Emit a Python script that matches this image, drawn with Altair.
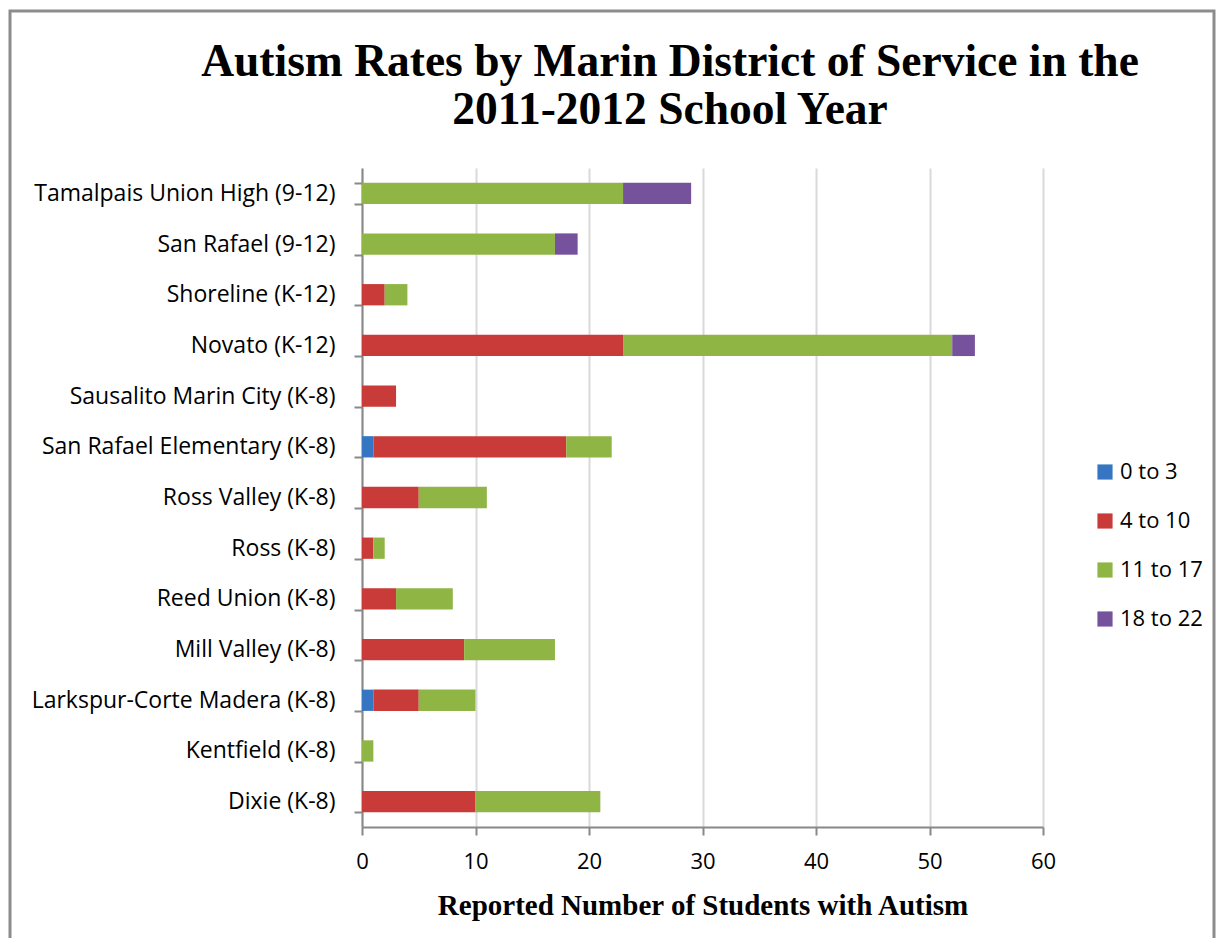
import altair as alt
import pandas as pd

districts = [
    "Tamalpais Union High (9-12)",
    "San Rafael (9-12)",
    "Shoreline (K-12)",
    "Novato (K-12)",
    "Sausalito Marin City (K-8)",
    "San Rafael Elementary (K-8)",
    "Ross Valley (K-8)",
    "Ross (K-8)",
    "Reed Union (K-8)",
    "Mill Valley (K-8)",
    "Larkspur-Corte Madera (K-8)",
    "Kentfield (K-8)",
    "Dixie (K-8)",
]
age_groups = ["0 to 3", "4 to 10", "11 to 17", "18 to 22"]
age_0_3 =   [0, 0, 0, 0, 0, 1, 0, 0, 0, 0, 1, 0, 0]
age_4_10 =  [0, 0, 2, 23, 3, 17, 5, 1, 3, 9, 4, 0, 10]
age_11_17 = [23, 17, 2, 29, 0, 4, 6, 1, 5, 8, 5, 1, 11]
age_18_22 = [6, 2, 0, 2, 0, 0, 0, 0, 0, 0, 0, 0, 0]
colors = ["#3575c2", "#c83b38", "#8fb544", "#77529c"]
title_lines = ["Autism Rates by Marin District of Service in the", "2011-2012 School Year"]

series = [age_0_3, age_4_10, age_11_17, age_18_22]
rows = []
for gi, (g, vals) in enumerate(zip(age_groups, series)):
    for d, v in zip(districts, vals):
        rows.append({"district": d, "group": g, "order": gi, "value": v})
df = pd.DataFrame(rows)

label_font = "Open Sans"
serif = "Liberation Serif"

bars = alt.Chart(df).mark_bar().encode(
    y=alt.Y("district:N", sort=districts,
            scale=alt.Scale(paddingInner=0.58, paddingOuter=0.29),
            axis=alt.Axis(title=None, tickBand="extent", tickSize=8, tickColor="#888888",
                          tickWidth=2, domainColor="#888888", domainWidth=2,
                          labelFont=label_font, labelFontSize=23, labelColor="#000000",
                          labelPadding=19, labelLimit=500, grid=False)),
    x=alt.X("value:Q", stack="zero",
            scale=alt.Scale(domain=[0, 60], nice=False),
            axis=alt.Axis(title="Reported Number of Students with Autism",
                          values=[0, 10, 20, 30, 40, 50, 60],
                          titleFont=serif, titleFontSize=29, titleFontWeight="bold",
                          titleColor="#000000", titlePadding=19,
                          labelFont=label_font, labelFontSize=22, labelColor="#000000",
                          labelPadding=16, labelFlush=False, tickSize=8, tickColor="#888888",
                          tickWidth=2, domainColor="#888888", domainWidth=2,
                          grid=True, gridColor="#d9d9d9", gridWidth=2)),
    color=alt.Color("group:N", sort=age_groups,
                    scale=alt.Scale(domain=age_groups, range=colors),
                    legend=alt.Legend(title=None, orient="none", legendX=732, legendY=293,
                                      symbolType="square", symbolSize=230, symbolStrokeWidth=0,
                                      labelFont=label_font, labelFontSize=22,
                                      labelColor="#000000", rowPadding=27, labelOffset=4)),
    order=alt.Order("order:Q"),
)

border = alt.Chart(alt.Data(values=[{}])).mark_rect(
    fillOpacity=0, stroke="#8c8c8c", strokeWidth=3
).encode(
    x=alt.value(-352), x2=alt.value(852), y=alt.value(-157), y2=alt.value(800)
)

title1 = alt.Chart(alt.Data(values=[{"t": title_lines[0]}])).mark_text(
    font=serif, fontSize=45.5, fontWeight="bold", color="#000000",
    align="center", baseline="alphabetic"
).encode(x=alt.value(308), y=alt.value(-92), text="t:N")

title2 = alt.Chart(alt.Data(values=[{"t": title_lines[1]}])).mark_text(
    font=serif, fontSize=45.5, fontWeight="bold", color="#000000",
    align="center", baseline="alphabetic"
).encode(x=alt.value(308), y=alt.value(-44), text="t:N")

chart = alt.layer(border, title1, title2, bars).properties(
    width=681, height=659,
    autosize=alt.AutoSizeParams(type="none"),
    padding={"left": 354, "top": 160, "right": 174, "bottom": 111},
).configure_view(stroke=None)

chart.save("out.html", embed_options={"renderer": "svg", "actions": False})
